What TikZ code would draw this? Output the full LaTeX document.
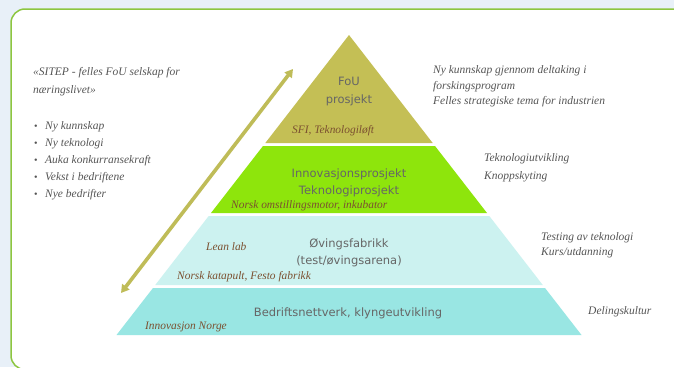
\documentclass[tikz,border=0pt]{standalone}
\usepackage{fontspec}
\setmainfont{Liberation Serif}
\newfontfamily\dvs{DejaVu Sans}
\usetikzlibrary{arrows.meta}
\definecolor{bgc}{HTML}{E8F0F8}
\definecolor{framec}{HTML}{8DC640}
\definecolor{olivec}{HTML}{C4BF55}
\definecolor{greenc}{HTML}{8EE50C}
\definecolor{lcyan}{HTML}{CCF2F0}
\definecolor{cyanc}{HTML}{99E6E3}
\definecolor{txtgray}{HTML}{666666}
\definecolor{notegray}{HTML}{555555}
\definecolor{brownc}{HTML}{7B5030}
\definecolor{arrowc}{HTML}{BFBC58}
\begin{document}
\begin{tikzpicture}[x=1pt,y=-1pt,
  lbl/.style={font=\dvs\fontsize{11.5}{13}\selectfont, text=txtgray, inner sep=0, anchor=base},
  note/.style={font=\itshape\fontsize{11.5}{13}\selectfont, text=notegray, inner sep=0, anchor=base west},
  brn/.style={font=\itshape\fontsize{11.4}{13}\selectfont, text=brownc, inner sep=0, anchor=base west},
  bul/.style={font=\fontsize{10}{12}\selectfont, text=notegray, inner sep=0, anchor=base west},
]
\useasboundingbox (0,0) rectangle (674,367);
\fill[bgc] (0,0) rectangle (674,367);
\draw[framec, line width=1.5, fill=white, rounded corners=14] (11,9) rectangle (700,369.5);

% pyramid tiers
\fill[olivec] (349,35) -- (432.7,143) -- (265.3,143) -- cycle;
\fill[greenc] (263,146) -- (435,146) -- (487,213) -- (211,213) -- cycle;
\fill[lcyan] (208.7,216) -- (489.3,216) -- (542.75,285) -- (155.25,285) -- cycle;
\fill[cyanc] (153,288) -- (545,288) -- (581.5,335) -- (116.5,335) -- cycle;

% arrow
\coordinate (arrA) at (121,293);
\coordinate (arrB) at (293,69);
\draw[arrowc, line width=3.6, {Triangle[length=8,width=9]}-{Triangle[length=8,width=9]}] (arrA) -- (arrB);

% tier labels
\node[lbl] (fou) at (349,85) {FoU};
\node[lbl] (prosj) at (349,103) {prosjekt};
\node[lbl] (innov) at (349,177) {Innovasjonsprosjekt};
\node[lbl] (tekn) at (349,194) {Teknologiprosjekt};
\node[lbl] (oving) at (349,247) {Øvingsfabrikk};
\node[lbl] (test) at (349,264) {(test/øvingsarena)};
\node[lbl] (bedr) at (348,316) {Bedriftsnettverk, klyngeutvikling};

% brown labels
\node[brn] (sfi) at (292,133) {SFI, Teknologiløft};
\node[brn] (nom) at (231,208) {Norsk omstillingsmotor, inkubator};
\node[brn] (lean) at (206,250) {Lean lab};
\node[brn] (kat) at (177,279) {Norsk katapult, Festo fabrikk};
\node[brn] (inno) at (145,329) {Innovasjon Norge};

% left text
\node[note] (sitep1) at (33,75) {«SITEP - felles FoU selskap for};
\node[note] (sitep2) at (33,93) {næringslivet»};
\foreach \t/\yy/\nm in {Ny kunnskap/129/b1, Ny teknologi/146/b2, Auka konkurransekraft/163/b3, Vekst i bedriftene/180/b4, Nye bedrifter/197/b5}{
  \node[bul] (\nm d) at (34,\yy) {•};
  \node[note] (\nm) at (45,\yy) {\t};
}

% right notes
\node[note] (r1) at (433,73) {Ny kunnskap gjennom deltaking i};
\node[note] (r2) at (433,89) {forskingsprogram};
\node[note] (r3) at (433,104) {Felles strategiske tema for industrien};
\node[note] (r4) at (484,161) {Teknologiutvikling};
\node[note] (r5) at (484,179) {Knoppskyting};
\node[note] (r6) at (541,240) {Testing av teknologi};
\node[note] (r7) at (541,255) {Kurs/utdanning};
\node[note] (r8) at (588,314) {Delingskultur};
\end{tikzpicture}
\end{document}
